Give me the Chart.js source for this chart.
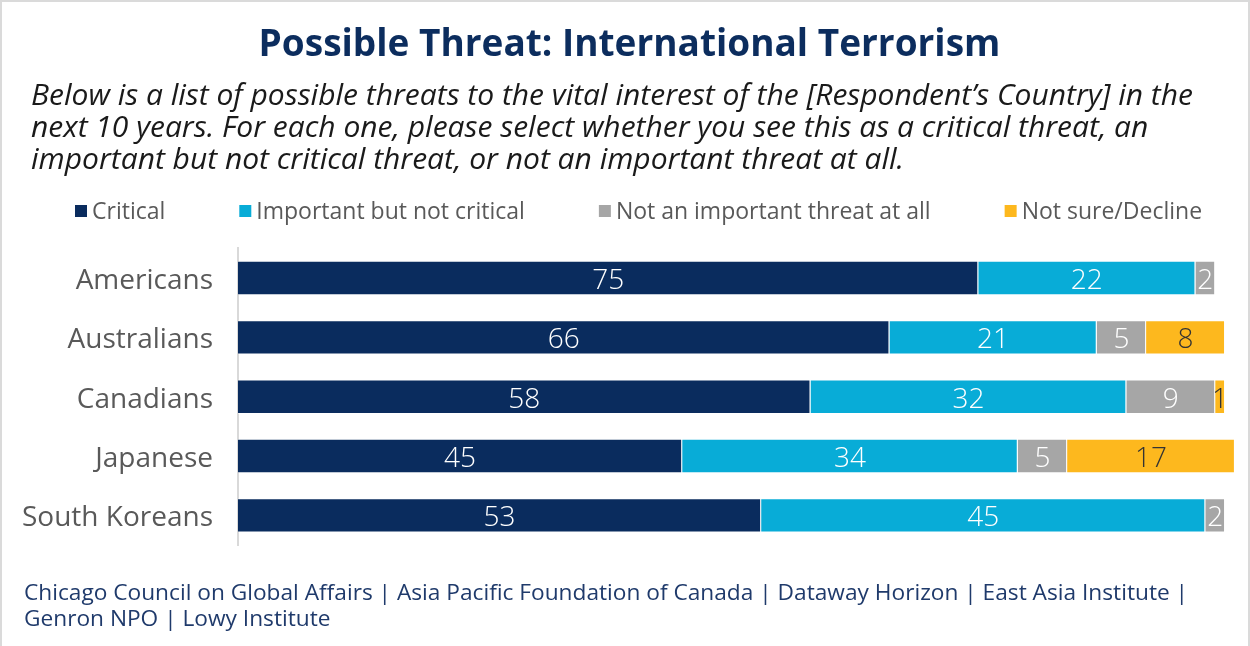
<!DOCTYPE html>
<html>
<head>
<meta charset="utf-8">
<script src="https://cdn.jsdelivr.net/npm/chart.js@4.4.1/dist/chart.umd.min.js"></script>
<style>
  html, body { margin: 0; padding: 0; background: #fff; }
  #wrap { position: relative; width: 1250px; height: 646px; overflow: hidden; }
  #frame { position: absolute; left: 0; top: 0; width: 1250px; height: 660px;
           box-sizing: border-box; border: 2px solid #dadada; pointer-events: none; }
  #chart { position: absolute; left: 0; top: 0; }
  #source { position: absolute; left: 24px; top: 579px; width: 1215px;
            font-family: "Open Sans", sans-serif; font-size: 22.7px; line-height: 26px; color: #1f3a6b; }
</style>
</head>
<body>
<div id="wrap">
  <canvas id="chart" width="1250" height="646"></canvas>
  <div id="source">Chicago Council on Global Affairs | Asia Pacific Foundation of Canada | Dataway Horizon | East Asia Institute |<br>Genron NPO | Lowy Institute</div>
  <div id="frame"></div>
</div>
<script>
// Survey groups and answer shares (percent)
const groups = ['Americans', 'Australians', 'Canadians', 'Japanese', 'South Koreans'];
const critical = [75, 66, 58, 45, 53];
const important = [22, 21, 32, 34, 45];
const notImportant = [2, 5, 9, 5, 2];
const notSure = [0, 8, 1, 17, 0];

const answerNames = ['Critical', 'Important but not critical', 'Not an important threat at all', 'Not sure/Decline'];
const answerColors = ['#0a2c5e', '#08acd7', '#a6a6a6', '#fdb81e'];
const labelColors = ['#ffffff', '#ffffff', '#ffffff', '#333333'];

const FONT = '"Open Sans", sans-serif';

// legend row drawn by hand so the spacing can be set freely
const rowLegend = {
  id: 'rowLegend',
  afterDraw(chart) {
    const ctx = chart.ctx;
    let x = 75;
    const y = 211;
    ctx.save();
    ctx.font = '23px ' + FONT;
    ctx.textBaseline = 'middle';
    chart.data.datasets.forEach(ds => {
      ctx.fillStyle = ds.backgroundColor;
      ctx.fillRect(x, y - 6, 12, 12);
      ctx.fillStyle = '#595959';
      ctx.fillText(ds.label, x + 17, y + 1);
      x += 17 + ctx.measureText(ds.label).width + 74;
    });
    ctx.restore();
  }
};

// value in the middle of each bar segment
const segmentLabels = {
  id: 'segmentLabels',
  afterDatasetsDraw(chart) {
    const ctx = chart.ctx;
    ctx.save();
    ctx.font = '300 28px ' + FONT;
    ctx.textAlign = 'center';
    ctx.textBaseline = 'middle';
    chart.data.datasets.forEach((ds, i) => {
      chart.getDatasetMeta(i).data.forEach((bar, j) => {
        const v = ds.data[j];
        if (!v) return;
        ctx.fillStyle = labelColors[i];
        ctx.fillText(v, (bar.x + bar.base) / 2, bar.y + 3);
      });
    });
    ctx.restore();
  }
};

// let the long group names run past the left padding instead of being cut
const widenLabelArea = {
  id: 'widenLabelArea',
  afterLayout(chart) {
    chart.scales.y.left = 8;
  }
};

const seriesData = [critical, important, notImportant, notSure];

new Chart(document.getElementById('chart'), {
  type: 'bar',
  data: {
    labels: groups,
    datasets: seriesData.map((d, i) => ({
      label: answerNames[i],
      data: d,
      backgroundColor: answerColors[i],
      borderColor: 'rgba(255,255,255,0.45)',
      borderWidth: 1,
      categoryPercentage: 1,
      barPercentage: 0.58,
      clip: false
    }))
  },
  options: {
    indexAxis: 'y',
    responsive: false,
    animation: false,
    layout: { padding: { left: 31, right: 22, top: 0, bottom: 101 } },
    plugins: {
      legend: { display: false },
      tooltip: { enabled: false },
      title: {
        display: true,
        text: 'Possible Threat: International Terrorism',
        color: '#0c2d5e',
        font: { family: FONT, size: 37, weight: 'bold' },
        padding: { top: 23, bottom: 10 }
      },
      subtitle: {
        display: true,
        align: 'start',
        text: [
          'Below is a list of possible threats to the vital interest of the [Respondent\u2019s Country] in the',
          'next 10 years. For each one, please select whether you see this as a critical threat, an',
          'important but not critical threat, or not an important threat at all.'
        ],
        color: '#1a1a1a',
        font: { family: FONT, size: 30, style: 'italic', lineHeight: 32 / 30 },
        padding: { top: 3, bottom: 72 }
      }
    },
    scales: {
      x: { stacked: true, min: 0, max: 100.3, display: false },
      y: {
        stacked: true,
        afterFit(scale) { scale.width = 207; },
        grid: { display: false, drawTicks: false },
        border: { display: true, color: '#d9d9d9', width: 2 },
        ticks: { color: '#595959', padding: 25, labelOffset: 3, font: { family: FONT, size: 28 } }
      }
    }
  },
  plugins: [rowLegend, segmentLabels, widenLabelArea]
});
</script>
</body>
</html>
